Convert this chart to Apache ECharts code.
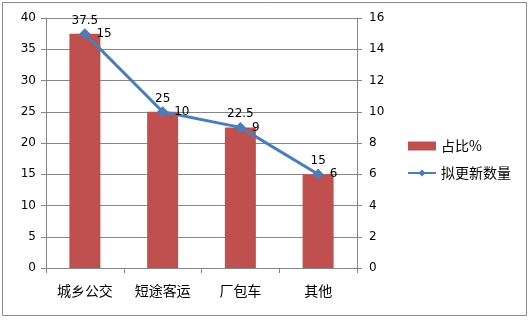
<!DOCTYPE html>
<html><head><meta charset="utf-8">
<script src="https://cdn.jsdelivr.net/npm/echarts@6/dist/echarts.min.js"></script>
<style>html,body{margin:0;padding:0;background:#fff}#c{width:530px;height:320px}</style>
</head><body><div id="c"></div>
<script>
const categories = ['城乡公交','短途客运','厂包车','其他'];
const shareValues = [37.5, 25, 22.5, 15];
const countValues = [15, 10, 9, 6];
const leftTicks = [0,5,10,15,20,25,30,35,40];
const rightTicks = [0,2,4,6,8,10,12,14,16];

const font = '"DejaVu Sans", "Noto Sans CJK SC", sans-serif';
const chart = echarts.init(document.getElementById('c'));
chart.setOption({
  animation: false,
  backgroundColor: '#fff',
  graphic: [{type:'rect', shape:{x:2.5,y:2.5,width:524,height:313}, style:{fill:'none', stroke:'#8c8c8c', lineWidth:1}}],
  grid: {left: 46, right: 173, top: 18, bottom: 52},
  legend: {
    orient: 'vertical', left: 402, top: 134, itemWidth: 28, itemHeight: 9, itemGap: 13,
    textStyle: {fontFamily: '"Noto Sans CJK SC", sans-serif', fontSize: 14, color: '#000'},
    data: [{name:'占比%', icon:'rect'}, {name:'拟更新数量'}]
  },
  xAxis: {
    type: 'category', data: categories,
    axisLine: {lineStyle: {color: '#868686'}},
    axisTick: {show: true, length: 5, lineStyle: {color: '#868686'}},
    axisLabel: {fontFamily: '"Noto Sans CJK SC", sans-serif', fontSize: 14, color: '#000', margin: 16}
  },
  yAxis: [{
    type: 'value', min: 0, max: 40, interval: 5,
    axisLine: {show: true, lineStyle: {color: '#868686'}},
    axisTick: {show: true, length: 5, lineStyle: {color: '#868686'}},
    axisLabel: {fontFamily: font, fontSize: 12, color: '#000', margin: 10},
    splitLine: {lineStyle: {color: '#868686'}}
  }, {
    type: 'value', min: 0, max: 16, interval: 2, position: 'right',
    axisLine: {show: true, lineStyle: {color: '#868686'}},
    axisTick: {show: true, length: 5, lineStyle: {color: '#868686'}},
    axisLabel: {fontFamily: font, fontSize: 12, color: '#000', margin: 12},
    splitLine: {show: false}
  }],
  series: [{
    name: '占比%', type: 'bar', data: shareValues, barWidth: 31,
    itemStyle: {color: '#c0504d'},
    label: {show: true, position: 'top', distance: 7, fontFamily: font, fontSize: 12, color: '#000'}
  }, {
    name: '拟更新数量', type: 'line', yAxisIndex: 1, data: countValues,
    symbol: 'diamond', symbolSize: 11,
    lineStyle: {color: '#4a7ebb', width: 3},
    itemStyle: {color: '#4a7ebb'},
    label: {show: true, position: 'right', distance: 6, fontFamily: font, fontSize: 12, color: '#000'}
  }]
});
</script></body></html>
